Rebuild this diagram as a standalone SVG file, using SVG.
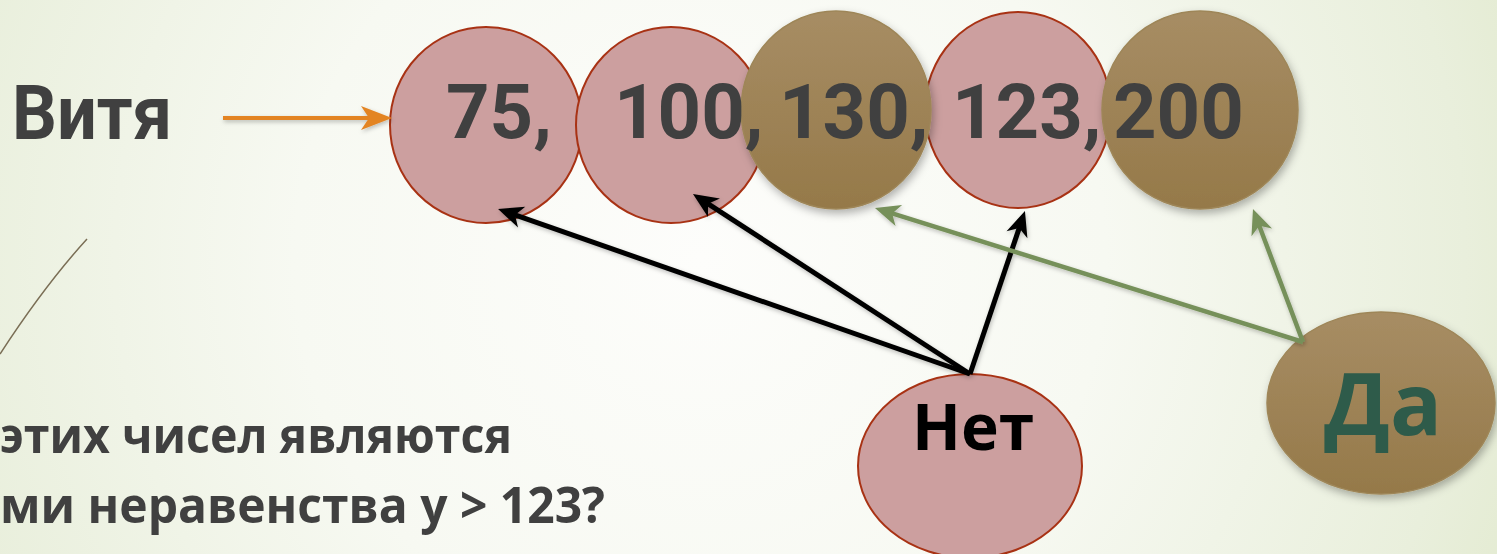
<svg xmlns="http://www.w3.org/2000/svg" width="1497" height="554" viewBox="0 0 1497 554">
  <defs>
    <radialGradient id="bg" cx="700" cy="260" r="900" gradientUnits="userSpaceOnUse">
      <stop offset="0" stop-color="#FDFDFB"/>
      <stop offset="0.45" stop-color="#F7F9F2"/>
      <stop offset="0.85" stop-color="#E9EFDC"/>
      <stop offset="1" stop-color="#E2EACF"/>
    </radialGradient>
    <linearGradient id="brown" x1="0" y1="0" x2="0" y2="1">
      <stop offset="0" stop-color="#A78D64"/>
      <stop offset="1" stop-color="#957949"/>
    </linearGradient>
    <filter id="shadow" x="-20%" y="-20%" width="140%" height="150%">
      <feDropShadow dx="2" dy="4" stdDeviation="4" flood-color="#000" flood-opacity="0.3"/>
    </filter>
    <filter id="lshadow" x="-10%" y="-10%" width="120%" height="130%">
      <feDropShadow dx="1" dy="2" stdDeviation="2" flood-color="#000" flood-opacity="0.25"/>
    </filter>
    <marker id="ahBlack" viewBox="-28 -14 30 28" refX="-8" refY="0" markerWidth="30" markerHeight="28" markerUnits="userSpaceOnUse" orient="auto" overflow="visible">
      <path d="M0,0 L-25,-11 L-18,0 L-25,11 Z" fill="#000"/>
    </marker>
    <marker id="ahGreen" viewBox="-28 -14 30 28" refX="-8" refY="0" markerWidth="30" markerHeight="28" markerUnits="userSpaceOnUse" orient="auto" overflow="visible">
      <path d="M0,0 L-25,-11 L-18,0 L-25,11 Z" fill="#76905A"/>
    </marker>
    <marker id="ahOrange" viewBox="-32 -13 34 26" refX="-8" refY="0" markerWidth="34" markerHeight="26" markerUnits="userSpaceOnUse" orient="auto" overflow="visible">
      <path d="M0,0 L-31,-12 L-23,0 L-31,12 Z" fill="#E38423"/>
    </marker>
    <style>
      .pink { fill: #CC9F9F; stroke: #A83214; stroke-width: 2; }
      .brown { fill: url(#brown); stroke: #9E8658; stroke-width: 1.5; filter: url(#shadow); }
      .num { font-family: Roboto, "Liberation Sans", sans-serif; font-weight: 700; font-size: 76px; fill: #404040; }
      .q { font-family: "Open Sans", "Liberation Sans", sans-serif; font-weight: 700; font-size: 50px; fill: #404040; }
      .blk { stroke: #000; stroke-width: 5; fill: none; marker-end: url(#ahBlack); }
      .grn { stroke: #76905A; stroke-width: 4.5; fill: none; marker-end: url(#ahGreen); }
    </style>
  </defs>

  <rect x="0" y="0" width="1497" height="554" fill="url(#bg)"/>
  <path d="M0,354 Q45,285 87,239" fill="none" stroke="#7A6E55" stroke-width="1.5"/>

  <g id="vitya">
    <text x="12" y="139" font-family="Roboto, 'Liberation Sans', sans-serif" font-weight="700" font-size="76" fill="#404040" textLength="160" lengthAdjust="spacingAndGlyphs">Витя</text>
  </g>

  <g id="node-75"><ellipse class="pink" cx="486" cy="125" rx="96" ry="98"/></g>
  <g id="node-100"><ellipse class="pink" cx="671" cy="125" rx="95" ry="98"/></g>
  <g id="node-123"><ellipse class="pink" cx="1018" cy="110" rx="93" ry="98"/></g>
  <g id="node-130"><ellipse class="brown" cx="836" cy="110" rx="95" ry="99"/></g>
  <g id="node-200"><ellipse class="brown" cx="1200" cy="110" rx="98" ry="99"/></g>

  <g id="numbers">
    <text class="num" x="446" y="138">75,</text>
    <text class="num" x="614" y="138">100,</text>
    <text class="num" x="779" y="138">130,</text>
    <text class="num" x="952" y="138">123,</text>
    <text class="num" x="1113" y="138">200</text>
  </g>

  <g id="node-net">
    <ellipse class="pink" cx="970" cy="466" rx="112" ry="92"/>
    <text x="973" y="450" text-anchor="middle" font-family="'Open Sans', 'Liberation Sans', sans-serif" font-weight="700" font-size="64" fill="#000">Нет</text>
  </g>

  <g id="node-da">
    <ellipse class="brown" cx="1381" cy="403" rx="114" ry="91"/>
    <text x="1324" y="435" font-family="'Open Sans', 'Liberation Sans', sans-serif" font-weight="700" font-size="86" fill="#2E5B4A" textLength="118" lengthAdjust="spacingAndGlyphs">Да</text>
  </g>

  <g id="connectors" filter="url(#lshadow)">
    <line x1="223" y1="118" x2="384" y2="118" stroke="#E38423" stroke-width="4" marker-end="url(#ahOrange)"/>
    <line class="blk" x1="970" y1="374" x2="505.6" y2="211.6"/>
    <line class="blk" x1="970" y1="374" x2="699.7" y2="198.4"/>
    <line class="blk" x1="970" y1="374" x2="1022.4" y2="218.6"/>
    <line class="grn" x1="1303" y1="342" x2="882.6" y2="210.4"/>
    <line class="grn" x1="1303" y1="342" x2="1255.8" y2="216.5"/>
  </g>

  <g id="question">
    <text class="q" x="0" y="453" textLength="512" lengthAdjust="spacingAndGlyphs">этих чисел являются</text>
    <text class="q" x="0" y="523" textLength="605" lengthAdjust="spacingAndGlyphs">ми неравенства у &gt; 123?</text>
  </g>
</svg>
